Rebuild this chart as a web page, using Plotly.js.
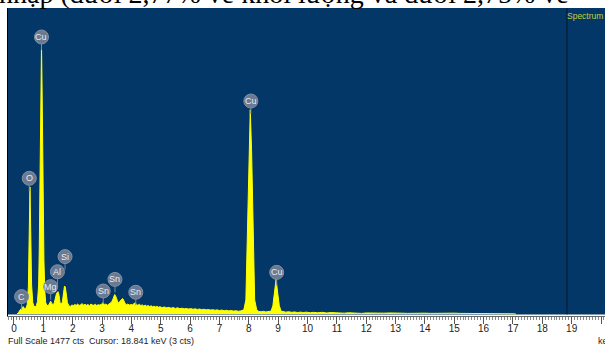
<!DOCTYPE html>
<html><head><meta charset="utf-8">
<script src="https://cdn.plot.ly/plotly-3.0.1.min.js"></script>
<style>html,body{margin:0;padding:0;background:#fff;}#chart{width:605px;height:347px;}</style>
</head><body><div id="chart"></div>
<script>
// Spectrum: energy (keV) and counts
const energy = [0.10,0.15,0.20,0.25,0.31,0.36,0.41,0.45,0.49,0.52,0.545,0.57,0.60,0.64,0.68,0.72,0.76,0.80,0.84,0.86,0.88,0.90,0.92,0.937,0.955,0.975,0.995,1.02,1.05,1.08,1.12,1.16,1.20,1.25,1.29,1.33,1.37,1.41,1.45,1.50,1.53,1.57,1.61,1.65,1.69,1.72,1.75,1.78,1.82,1.87,1.92,
1.97,2.02,2.07,2.12,2.17,2.22,2.27,2.32,2.37,2.42,2.47,2.52,2.57,2.62,2.67,2.72,2.77,2.82,2.87,2.92,2.97,3.01,3.04,3.08,3.13,3.18,3.23,3.28,3.33,3.38,3.43,3.47,3.51,3.55,3.60,3.65,3.70,3.74,3.78,3.83,3.88,3.93,3.98,4.03,4.08,4.13,4.17,4.22,4.27,4.32,4.37,4.42,4.47,4.52,4.57,4.62,4.67,4.72,4.77,4.82,4.87,4.92,4.97,5.05,5.12,5.20,5.27,5.35,5.42,5.50,5.57,5.65,5.72,5.80,5.87,5.95,6.02,6.10,6.17,6.25,6.32,6.40,6.47,6.55,6.62,6.70,6.77,6.85,6.92,7.00,7.08,7.16,7.24,7.32,7.40,7.48,7.56,7.64,7.72,
7.83,7.90,7.95,7.975,8.005,8.05,8.095,8.125,8.15,8.20,8.27,8.34,8.42,8.50,8.58,8.66,8.76,8.82,8.87,8.93,8.99,9.04,9.10,9.18,9.26,9.36,9.46,9.56,9.66,9.76,9.86,9.96,10.1,10.2,10.35,10.5,10.65,10.8,10.95,11.1,11.25,11.4,11.55,11.7,11.85,12.0,12.2,12.4,12.6,12.8,13.0,13.2,13.4,13.6,13.8,14.0,14.2,14.4,14.6,14.8,15.0,15.2,15.4,15.6,15.8,16.0,16.2,16.4,16.6,16.8,17.0,17.1];
const counts = [0,6,18,28,36,26,28,45,130,400,613,400,140,55,38,35,40,60,140,300,520,820,1150,1298,1120,800,520,260,110,55,42,40,48,62,50,46,52,75,100,108,95,55,45,60,100,135,130,95,55,40,36,
44,40,46,42,48,41,45,50,43,47,42,46,40,48,44,42,47,41,45,43,46,52,55,44,48,42,46,50,58,75,94,85,62,52,60,70,75,66,52,45,48,43,46,44,50,54,46,42,47,41,44,39,43,38,41,36,40,35,38,34,37,33,35,31,34,30,32,28,31,27,30,26,28,25,27,24,26,23,25,22,24,21,23,20,22,19,21,18,20,17,19,16,18,15,17,14,16,13,15,
20,68,390,550,790,986,790,550,390,68,20,12,11,13,10,12,14,40,95,168,95,40,14,10,9,11,8,10,7,9,7,9,6,8,6,8,5,7,5,6,4,6,4,5,3,5,4,5,4,5,3,4,3,4,3,4,3,4,3,3,4,3,3,4,3,3,2,3,2,2,1,0];

// Element labels
const labelText = ['C','O','Cu','Mg','Al','Si','Sn','Sn','Sn','Cu','Cu'];
const labelEnergy = [0.26,0.52,0.937,1.25,1.48,1.74,3.04,3.44,4.15,8.07,8.95];
const labelCounts = [84,655,1337,132,204,277,111,167,105,1028,201];

// Axis ticks
const tickVals = [0,1,2,3,4,5,6,7,8,9,10,11,12,13,14,15,16,17,18,19,20];
const cursorKeV = 18.841;
const fullScale = 1477;

const trace = {
  x: energy, y: counts, type: 'scatter', mode: 'lines',
  line: {color: '#ffff00', width: 1}, fill: 'tozeroy', fillcolor: '#ffff00',
  hoverinfo: 'skip', showlegend: false
};

const shapes = [
  {type:'rect', xref:'paper', yref:'paper', x0:0, x1:1, y0:0.005, y1:1, fillcolor:'#023767', line:{width:0}, layer:'below'},
  {type:'line', xref:'x', yref:'paper', x0:cursorKeV, x1:cursorKeV, y0:0.005, y1:1, line:{color:'#0b1626', width:1}, layer:'above'}
];
const annotations = [];
labelText.forEach((t,i)=>{
  shapes.push({type:'line', xref:'x', yref:'y', xsizemode:'pixel', ysizemode:'pixel',
    xanchor:labelEnergy[i], yanchor:labelCounts[i], x0:0, x1:0, y0:-7, y1:-13,
    line:{color:'#7d8aa0', width:1}, layer:'above'});
  shapes.push({type:'circle', xref:'x', yref:'y', xsizemode:'pixel', ysizemode:'pixel',
    xanchor:labelEnergy[i], yanchor:labelCounts[i], x0:-7, x1:7, y0:-7, y1:7,
    fillcolor:'#6b7a91', line:{color:'#8390a5', width:1}, layer:'above'});
  annotations.push({x:labelEnergy[i], y:labelCounts[i], xref:'x', yref:'y', text:t, showarrow:false,
    font:{family:'Arial, Liberation Sans', size:9, color:'#e6ecf4'}, xanchor:'center', yanchor:'middle'});
});
annotations.push({xref:'paper', yref:'paper', x:(565-8)/597, y:(316-16)/308, xanchor:'left', yanchor:'middle',
  text:'Spectrum', showarrow:false, font:{family:'Arial, Liberation Sans', size:8.5, color:'#c5cf3a'}});
annotations.push({xref:'paper', yref:'paper', x:(6-8)/597, y:(316-341)/308, xanchor:'left', yanchor:'middle',
  text:'Full Scale ' + fullScale + ' cts  Cursor: ' + cursorKeV + ' keV (3 cts)', showarrow:false,
  font:{family:'Arial, Liberation Sans', size:9, color:'#222'}});
annotations.push({xref:'paper', yref:'paper', x:(596-8)/597, y:(316-341)/308, xanchor:'left', yanchor:'middle',
  text:'keV', showarrow:false, font:{family:'Arial, Liberation Sans', size:9, color:'#222'}});
annotations.push({xref:'paper', yref:'paper', x:(-3-8)/597, y:(316+7)/308, xanchor:'left', yanchor:'middle',
  text:'nhập (dưới 2,77% về khối lượng và dưới 2,75% về', showarrow:false,
  font:{family:'Liberation Serif, Times New Roman, serif', size:28, color:'#000'}});

const layout = {
  width:605, height:347,
  margin:{l:8, r:0, t:8, b:31, pad:0},
  paper_bgcolor:'#ffffff', plot_bgcolor:'#ffffff',
  showlegend:false,
  xaxis:{range:[-0.204, 20.136], tickvals:tickVals, ticktext:tickVals.map(String), ticks:'outside', ticklen:7,
    ticklabelstandoff:-4,
    tickcolor:'#555', tickwidth:1, showline:true, linecolor:'#666', linewidth:1, showgrid:false, zeroline:false,
    tickfont:{family:'Arial, Liberation Sans', size:10, color:'#222'},
    minor:{dtick:0.1, ticks:'outside', ticklen:3, tickcolor:'#888', tickwidth:1, showgrid:false}},
  yaxis:{range:[-9.65, fullScale], showticklabels:false, ticks:'', showgrid:false, zeroline:false,
    showline:true, linecolor:'#000', linewidth:1},
  shapes:shapes, annotations:annotations
};
Plotly.newPlot('chart', [trace], layout, {staticPlot:true, displayModeBar:false});
</script></body></html>
